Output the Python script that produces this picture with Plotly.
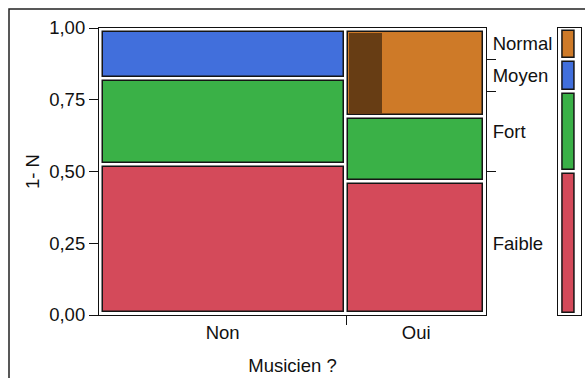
import plotly.graph_objects as go

# Mosaic plot: response level by "Musicien ?" group
groups = ["Non", "Oui"]
levels = ["Faible", "Fort", "Moyen", "Normal"]
counts = {
    "Non": [12, 7, 4, 0],
    "Oui": [6, 3, 0, 4],
}
# rows highlighted (selected) in each cell, shown as a darker part of the tile
selected = {
    "Non": [0, 0, 0, 0],
    "Oui": [0, 0, 0, 1],
}
level_colors = ["#D44A5A", "#3AB147", "#416FDC", "#CE7A28"]
y_ticks = [0, 0.25, 0.5, 0.75, 1.0]

W, H = 585, 378
PLOT_L, PLOT_R, PLOT_T, PLOT_B = 99, 486, 28, 315
AREA_R = 581
LEG_L = 557.7
FONT = dict(family="Liberation Sans, Arial", size=18.5, color="#111111")
EDGE = "#151515"


def darker(hex_color):
    r, g, b = (int(hex_color[i:i + 2], 16) for i in (1, 3, 5))
    return f"rgb({r // 2},{g // 2},{b // 2})"


px_x = 1.0 / (PLOT_R - PLOT_L)
px_y = 1.0 / (PLOT_B - PLOT_T)
pad, gap = 1.5, 2.0

total = sum(sum(v) for v in counts.values())
col_frac = [sum(counts[g]) / total for g in groups]

fig = go.Figure()

# column extents within the inner area
inner_x0, inner_x1 = pad * px_x, 1 - pad * px_x
inner_y0, inner_y1 = pad * px_y, 1 - pad * px_y
col_edges = [0.0]
for f in col_frac:
    col_edges.append(col_edges[-1] + f)

overlays = []
for j, g in enumerate(groups):
    cx0 = inner_x0 + col_edges[j] * (inner_x1 - inner_x0) + gap * px_x
    cx1 = inner_x0 + col_edges[j + 1] * (inner_x1 - inner_x0) - gap * px_x
    n = sum(counts[g])
    cum = 0
    for i, lev in enumerate(levels):
        c = counts[g][i]
        if c == 0:
            continue
        y0 = inner_y0 + cum / n * (inner_y1 - inner_y0) + gap * px_y
        y1 = inner_y0 + (cum + c) / n * (inner_y1 - inner_y0) - gap * px_y
        cum += c
        fig.add_trace(go.Bar(
            x=[(cx0 + cx1) / 2], y=[y1 - y0], base=[y0], width=[cx1 - cx0],
            marker=dict(color=level_colors[i], line=dict(color=EDGE, width=1.5)),
            hoverinfo="skip", showlegend=False, xaxis="x", yaxis="y",
        ))
        s = selected[g][i]
        if s:
            sw = (cx1 - cx0) * s / c
            lw = 1.0 * px_x
            overlays.append(go.Bar(
                x=[cx0 + lw + (sw - lw) / 2], y=[y1 - y0 - 2 * px_y], base=[y0 + px_y],
                width=[sw - lw],
                marker=dict(color=darker(level_colors[i]), line=dict(width=0)),
                hoverinfo="skip", showlegend=False, xaxis="x", yaxis="y",
            ))
for tr in overlays:
    fig.add_trace(tr)

# marginal distribution of the response
marg = [sum(counts[g][i] for g in groups) / total for i in range(len(levels))]
bounds = [0.0]
for m in marg:
    bounds.append(bounds[-1] + m)
centers = [(bounds[i] + bounds[i + 1]) / 2 for i in range(len(levels))]

# colour key bar on the right (same proportions)
lpad = 0.5
for i, lev in enumerate(levels):
    y0 = lpad * px_y + bounds[i] * (1 - 2 * lpad * px_y) + gap * px_y
    y1 = lpad * px_y + bounds[i + 1] * (1 - 2 * lpad * px_y) - gap * px_y
    fig.add_trace(go.Bar(
        x=[0.48], y=[y1 - y0], base=[y0], width=[0.54],
        marker=dict(color=level_colors[i], line=dict(color=EDGE, width=1.5)),
        hoverinfo="skip", showlegend=False, xaxis="x2", yaxis="y2",
    ))

# empty traces so the extra tick axes get drawn
for xa, ya in [("x3", "y"), ("x", "y3"), ("x", "y4")]:
    fig.add_trace(go.Scatter(x=[], y=[], xaxis=xa, yaxis=ya, showlegend=False,
                             hoverinfo="skip"))

split = col_edges[1]
col_centers = [(col_edges[j] + col_edges[j + 1]) / 2 for j in range(len(groups))]

plot_w = AREA_R - PLOT_L
main_dom = [0, (PLOT_R - PLOT_L) / plot_w]
leg_dom = [(LEG_L - PLOT_L) / plot_w, 1.0]

fig.update_layout(
    width=W, height=H,
    margin=dict(l=PLOT_L, r=W - AREA_R, t=PLOT_T, b=H - PLOT_B),
    paper_bgcolor="white", plot_bgcolor="white",
    barmode="overlay", bargap=0,
    font=FONT, separators=", ",
    showlegend=False,
    xaxis=dict(
        domain=main_dom, range=[0, 1], tickvals=col_centers, ticktext=groups,
        ticks="outside", ticklen=1, tickcolor="rgba(0,0,0,0)",
        showline=True, mirror=True, linecolor="#111111", linewidth=1.2,
        showgrid=False, zeroline=False, fixedrange=True, automargin=False,
        title=dict(text="Musicien ?", font=FONT, standoff=16),
    ),
    xaxis3=dict(
        overlaying="x", anchor="y", side="bottom", range=[0, 1],
        tickvals=[split], showticklabels=False, ticks="outside", ticklen=9,
        tickwidth=1.2, tickcolor="#111111", showgrid=False, zeroline=False,
        showline=False,
    ),
    yaxis=dict(
        domain=[0, 1], range=[0, 1], tickvals=y_ticks, tickformat=".2f",
        ticks="outside", ticklen=9, tickwidth=1.2, tickcolor="#111111",
        showline=True, mirror=True, linecolor="#111111", linewidth=1.2,
        showgrid=False, zeroline=False, fixedrange=True, automargin=False,
        title=dict(text="1- N", font=FONT, standoff=4),
    ),
    yaxis3=dict(
        overlaying="y", anchor="x", side="right", range=[0, 1],
        tickvals=bounds[1:-1], showticklabels=False, ticks="outside", ticklen=9,
        tickwidth=1.2, tickcolor="#111111", showgrid=False, zeroline=False,
        showline=False,
    ),
    yaxis4=dict(
        overlaying="y", anchor="x", side="right", range=[0, 1],
        tickvals=centers, ticktext=levels, ticks="outside", ticklen=2,
        tickcolor="rgba(0,0,0,0)", showgrid=False, zeroline=False,
        showline=False, automargin=False,
    ),
    xaxis2=dict(
        domain=leg_dom, range=[0, 1], anchor="y2", showticklabels=False,
        ticks="", showline=True, mirror=True, linecolor="#111111", linewidth=1.2,
        showgrid=False, zeroline=False,
    ),
    yaxis2=dict(
        domain=[0, 1], range=[0, 1], anchor="x2", showticklabels=False,
        ticks="", showline=True, mirror=True, linecolor="#111111", linewidth=1.2,
        showgrid=False, zeroline=False,
    ),
)

# outer panel border (runs off the right and bottom of the picture)
fig.add_shape(
    type="rect", xref="paper", yref="paper",
    x0=(9 - PLOT_L) / plot_w, x1=(W + 20 - PLOT_L) / plot_w,
    y0=-(H + 20 - PLOT_B) / (PLOT_B - PLOT_T), y1=(PLOT_B - 9) / (PLOT_B - PLOT_T),
    line=dict(color="#222222", width=1.5), fillcolor="rgba(0,0,0,0)", layer="below",
)

fig.write_html("out.html", config={"displayModeBar": False},
               post_script="document.body.style.margin='0';")
